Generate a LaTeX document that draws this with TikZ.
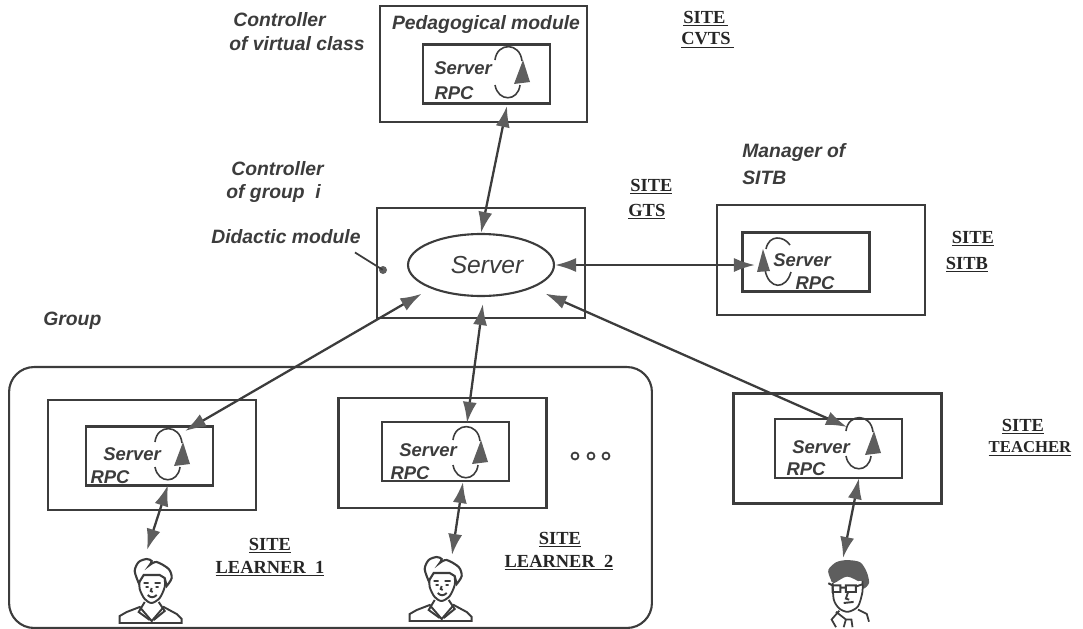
\documentclass[tikz,border=0pt]{standalone}
\usepackage{fontspec}
\setmainfont{Liberation Sans}
\newfontfamily\sitefont{Liberation Serif}
\usetikzlibrary{arrows.meta,shapes.geometric}
\definecolor{inkline}{HTML}{3C3C3C}
\definecolor{inktip}{HTML}{5E5E5E}
\tikzset{
    outerbox/.style={draw=inkline,line width=1.4pt,minimum width=4.16cm,minimum height=2.2cm},
    innerbox/.style={draw=inkline,line width=1.4pt,minimum width=2.54cm,minimum height=1.18cm},
    lbl/.style={text=inkline,font=\fontsize{11}{13}\selectfont\bfseries\itshape,inner sep=0pt},
    srvlbl/.style={text=inkline,font=\fontsize{10.5}{12}\selectfont\bfseries\itshape,inner sep=0pt},
    sitelbl/.style={text=black!85,font=\fontsize{10.5}{12}\selectfont\sitefont\bfseries,inner sep=0pt,yshift=-1pt},
    link/.style={draw=inkline,line width=1.3pt,{Latex[length=12pt,width=8pt,color=inktip]}-{Latex[length=12pt,width=8pt,color=inktip]}},
    % loop with its tip on the right
    rpcloop/.pic={
        \draw[inkline,line width=0.9pt] (-13,-12) .. controls (-11,-30) and (12,-30) .. (14,-11);
        \draw[inkline,line width=0.9pt] (-13,13) .. controls (-10,30) and (10,30) .. (12,13);
        \fill[inktip] (15,-12) -- (22,10) -- (6,12) -- cycle;
    },
    % same loop, tip on the left
    rpclooprev/.pic={
        \draw[inkline,line width=0.9pt] (-12,-13) .. controls (-9,-28) and (6,-26) .. (12,-17);
        \draw[inkline,line width=0.9pt] (-13,8) .. controls (-9,28) and (8,28) .. (13,10);
        \fill[inktip] (-15,-13) -- (-8,9) -- (-21,10) -- cycle;
    },
    learner/.pic={
        \draw[inkline,line width=1.1pt,fill=white] (-32,34) -- (-32,27) -- (-25,23) -- (-12,18) -- (0,32) -- (12,18) -- (25,25) -- (30,30) -- (30,34) -- cycle;
        \draw[inkline,line width=1.1pt] (-7,13) -- (-13,23) -- (-2,31) (7,13) -- (13,22) -- (2,31);
        \draw[inkline,line width=1.1pt,fill=white] plot[smooth] coordinates {(-12,-10) (-12,0) (-7,10) (0,14) (8,9) (13,-2) (13,-11)};
        \draw[inkline,line width=1.2pt,fill=white] plot[smooth] coordinates {(-13,-6) (-17,-18) (-13,-27) (-5,-30) (0,-28) (-2,-24)} -- plot[smooth] coordinates {(-2,-24) (5,-27) (17,-20) (20,-11) (15,-3)} -- (13,-11) -- (8,-14) -- (-8,-14) -- cycle;
        \draw[inkline,line width=1.1pt] (-8,-6) -- (-3,-6) (3,-6) -- (9,-6) (-6,-2) -- (-3,-2) (4,-2) -- (7,-2) (0,-1) -- (-1,2) -- (1,3) (-4,6) .. controls (-1,9) and (2,9) .. (5,6);
    },
    teacher/.pic={
        \fill[inktip] plot[smooth cycle] coordinates {(-15,-12) (-17,-20) (-10,-27) (0,-29) (12,-27) (18,-18) (20,-8) (15,-3) (13,-8) (0,-14) (-12,-8)};
        \draw[inkline,line width=1pt,fill=white] plot[smooth] coordinates {(-13,-8) (-12,7) (-7,15) (1,18) (10,13) (14,0) (14,-10)};
        \draw[inkline,line width=1.1pt] (-17,-8) -- (-13,-6) (-13,-6) rectangle (-6,0) (-1,-6) rectangle (8,0) (-6,-4) -- (-1,-4) (8,-5) -- (14,-7) (1,0) -- (-1,6) -- (2,7) (-3,10) -- (6,9);
        \draw[inkline,line width=1pt] (-7,17) -- (-14,25) -- (-10,32) (-1,25) -- (-10,18) (10,16) -- (18,20) -- (20,27) (-1,25) -- (4,25) -- (5,32) (-3,32) -- (-1,25);
    }
}

\begin{document}
\begin{tikzpicture}[x=0.02cm,y=-0.02cm]
    \useasboundingbox (0,0) rectangle (1083,629);

    % group
    \node[draw=inkline,line width=1.2pt,rounded corners=0.5cm,minimum width=12.86cm,minimum height=5.22cm] (groupbox) at (330.5,497.5) {};

    % sites
    \node[outerbox,minimum width=4.14cm,minimum height=2.32cm] (pedbox) at (483.5,64) {};
    \node[outerbox] (gtsbox) at (481,263) {};
    \foreach \name/\ox/\oy/\ix/\iy in {sitb/821/260/806/262,lrna/152/455/149.5/456,lrnb/442.5/453/445.5/451.5,tch/837.5/448.5/838.5/448.5} {
        \node[outerbox] (\name box) at (\ox,\oy) {};
        \node[innerbox] (\name rpc) at (\ix,\iy) {};
    }
    \node[innerbox] (pedrpc) at (486.5,74) {};

    % server of group
    \node[ellipse,draw=inkline,line width=1.2pt,minimum width=2.92cm,minimum height=1.24cm,inner sep=0pt] (srv) at (481,265) {};
    \node[text=inkline,font=\fontsize{14}{16}\selectfont\itshape,inner sep=0pt] (srvtxt) at (487,265) {Server};

    % server labels
    \foreach \name/\sx/\sy/\rx/\ry in {ped/463/68/454/93,sitb/802/260/815/283,lrna/132/454/110/477,lrnb/428/450/410/473,tch/821/447/806/469} {
        \node[srvlbl] (\name srv) at (\sx,\sy) {Server};
        \node[srvlbl] (\name rlb) at (\rx,\ry) {RPC};
    }

    % loops
    \pic at (508,72) {rpcloop};
    \pic at (778,262) {rpclooprev};
    \pic at (168,454) {rpcloop};
    \pic at (466,452) {rpcloop};
    \pic at (859,443) {rpcloop};

    % people
    \pic at (151.7,589) {learner};
    \pic at (441.7,587) {learner};
    \pic[scale=1.1] at (847,592) {teacher};

    % arrow ends
    \coordinate (tipped) at (507,106);
    \coordinate (tipsitb) at (755,265);
    \coordinate (tiplrna) at (185,431);
    \coordinate (tiplrnb) at (467,423);
    \coordinate (tiptch) at (847,427);
    \coordinate (lrnaup) at (168,485);
    \coordinate (lrnadn) at (147,550);
    \coordinate (lrnbup) at (463,482);
    \coordinate (lrnbdn) at (452,555);
    \coordinate (tchup) at (859,478);
    \coordinate (tchdn) at (843,558);

    % links
    \draw[link] (tipped) -- (srv.north);
    \draw[link] (srv.east) -- (tipsitb);
    \draw[link,shorten <=6pt] (srv.205) -- (tiplrna);
    \draw[link,shorten <=4pt] (srv.-85) -- (tiplrnb);
    \draw[link,shorten <=8pt] (srv.336) -- (tiptch);
    \draw[link] (lrnaup) -- (lrnadn);
    \draw[link] (lrnbup) -- (lrnbdn);
    \draw[link] (tchup) -- (tchdn);

    % titles
    \node[lbl,anchor=west] (ctlclass) at (233,20) {Controller};
    \node[lbl,anchor=west] (ctlclassb) at (229,44) {of virtual class};
    \node[lbl] (pedtxt) at (486,25) {Pedagogical module};
    \node[lbl,anchor=west] (ctlgroup) at (231,169) {Controller};
    \node[lbl,anchor=west] (ctlgroupb) at (226,193) {of group\ \ i};
    \node[lbl,anchor=west] (didtxt) at (211,237) {Didactic module};
    \node[lbl,anchor=west] (mgrtxt) at (742,153) {Manager of};
    \node[lbl,anchor=west] (mgrtxtb) at (742,178) {SITB};
    \node[lbl,anchor=west] (grouptxt) at (43,321) {Group};

    % didactic module pointer
    \fill[inktip] (383,270) circle (4);
    \node[inner sep=0pt,minimum size=0pt] (diddot) at (383,270) {};
    \draw[inkline,line width=1pt] (didtxt.south east) ++(-6,8) -- (diddot);

    % site names
    \node[sitelbl,anchor=west] (sitea) at (683,17) {\underline{SITE\,}};
    \node[sitelbl,anchor=west] (siteab) at (681,39) {\underline{CVTS\,}};
    \node[sitelbl,anchor=west] (siteb) at (630,185) {\underline{SITE}};
    \node[sitelbl,anchor=west] (sitebb) at (628,210) {\underline{GTS}};
    \node[sitelbl] (sitec) at (973,237) {\underline{SITE}};
    \node[sitelbl] (sitecb) at (967,263) {\underline{SITB}};
    \node[sitelbl] (sited) at (270,544) {\underline{SITE}};
    \node[sitelbl] (sitedb) at (270,567) {\underline{LEARNER\ \ 1}};
    \node[sitelbl] (sitee) at (560,538) {\underline{SITE}};
    \node[sitelbl] (siteeb) at (559,561) {\underline{LEARNER\ \ 2}};
    \node[sitelbl] (sitef) at (1023,425) {\underline{SITE}};
    \node[sitelbl,font=\fontsize{9.5}{12}\selectfont\sitefont\bfseries] (sitefb) at (1030,447) {\underline{TEACHER}};

    % dots
    \foreach \x in {575,591,606} {
        \draw[inkline,line width=1pt] (\x,456) circle (3.5);
    }
\end{tikzpicture}
\end{document}
